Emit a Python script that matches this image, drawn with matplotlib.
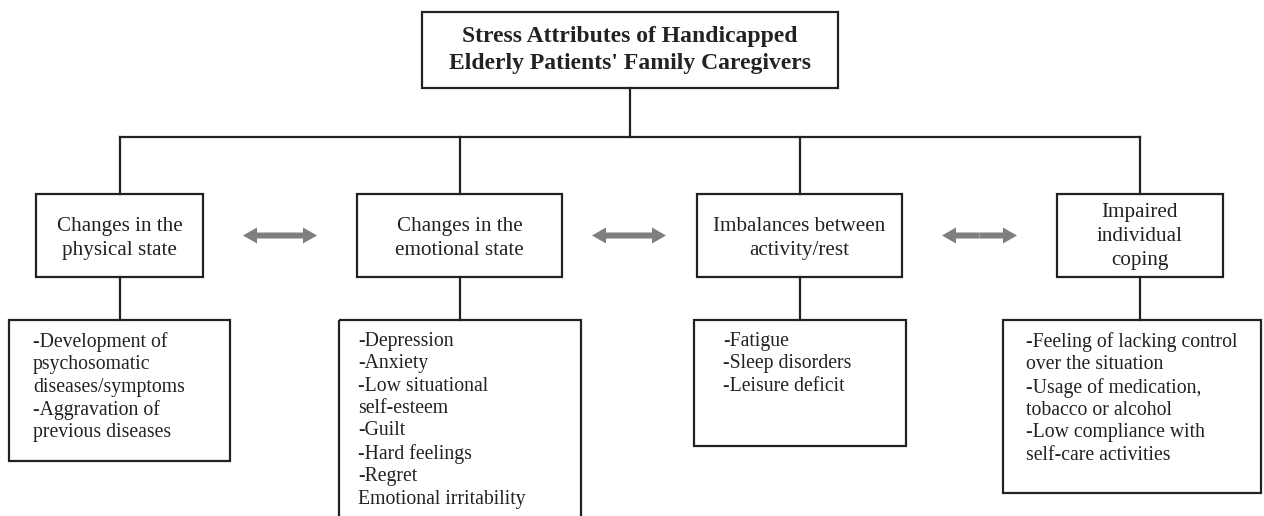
import matplotlib.pyplot as plt
from matplotlib.patches import Rectangle, FancyArrow

# Text content of the diagram
title_text = "Stress Attributes of Handicapped\nElderly Patients' Family Caregivers"
categories = [
    "Changes in the\nphysical state",
    "Changes in the\nemotional state",
    "Imbalances between\nactivity/rest",
    "Impaired\nindividual\ncoping",
]
details = [
    ["-Development of", "psychosomatic", "diseases/symptoms", "-Aggravation of", "previous diseases"],
    ["-Depression", "-Anxiety", "-Low situational", "self-esteem", "-Guilt", "-Hard feelings",
     "-Regret", "Emotional irritability"],
    ["-Fatigue", "-Sleep disorders", "-Leisure deficit"],
    ["-Feeling of lacking control", "over the situation", "-Usage of medication,",
     "tobacco or alcohol", "-Low compliance with", "self-care activities"],
]

# Layout (pixel coordinates, y downwards)
W, H = 1264, 516
title_box = (422, 12, 838, 88)
branch_y = 137
col_x = [120, 460, 800, 1140]
mid_boxes = [(36, 203), (357, 562), (697, 902), (1057, 1223)]
mid_top, mid_bot = 194, 277
low_boxes = [(9, 230, 461), (339, 581, 530), (694, 906, 446), (1003, 1261, 493)]
low_top = 320
text_x = [33, 358, 723, 1026]
arrows = [(243, 317), (592, 666), (942, 1017)]

line_c = '#222222'
serif = ['Liberation Serif', 'DejaVu Serif']

fig = plt.figure(figsize=(W / 100, H / 100), dpi=100)
ax = fig.add_axes([0, 0, 1, 1])
ax.set_xlim(0, W)
ax.set_ylim(H, 0)
ax.axis('off')


def box(x0, y0, x1, y1):
    ax.add_patch(Rectangle((x0, y0), x1 - x0, y1 - y0, fill=False, ec=line_c, lw=1.6))


# title
x0, y0, x1, y1 = title_box
box(x0, y0, x1, y1)
ax.text((x0 + x1) / 2, (y0 + y1) / 2, title_text, ha='center', va='center',
        fontsize=17, fontweight='bold', family=serif, color='#222222', linespacing=1.38)

# connectors
ax.plot([630, 630], [y1, branch_y], color=line_c, lw=1.6)
ax.plot([col_x[0], col_x[-1]], [branch_y, branch_y], color=line_c, lw=1.6)
for cx in col_x:
    ax.plot([cx, cx], [branch_y, mid_top], color=line_c, lw=1.6)
    ax.plot([cx, cx], [mid_bot, low_top], color=line_c, lw=1.6)

# middle boxes
for (bx0, bx1), label in zip(mid_boxes, categories):
    box(bx0, mid_top, bx1, mid_bot)
    dy = 3 if label.count("\n") == 1 else 1
    ax.text((bx0 + bx1) / 2, (mid_top + mid_bot) / 2 + dy, label, ha='center', va='center',
            fontsize=15.2, family=serif, color='#222222', linespacing=1.36)

# double arrows
ay = (mid_top + mid_bot) / 2
for ax0, ax1 in arrows:
    mid = (ax0 + ax1) / 2
    for end in (ax0, ax1):
        ax.add_patch(FancyArrow(mid, ay, end - mid, 0, width=6, head_width=16,
                                head_length=14, length_includes_head=True,
                                color='#7f7f7f', lw=0))

# bottom boxes
for (bx0, bx1, by1), tx, items in zip(low_boxes, text_x, details):
    box(bx0, low_top, bx1, by1)
    ax.text(tx, low_top + 12, "\n".join(items), ha='left', va='top',
            fontsize=14.2, family=serif, color='#222222', linespacing=1.24)

fig.savefig('out.png', dpi=100)
